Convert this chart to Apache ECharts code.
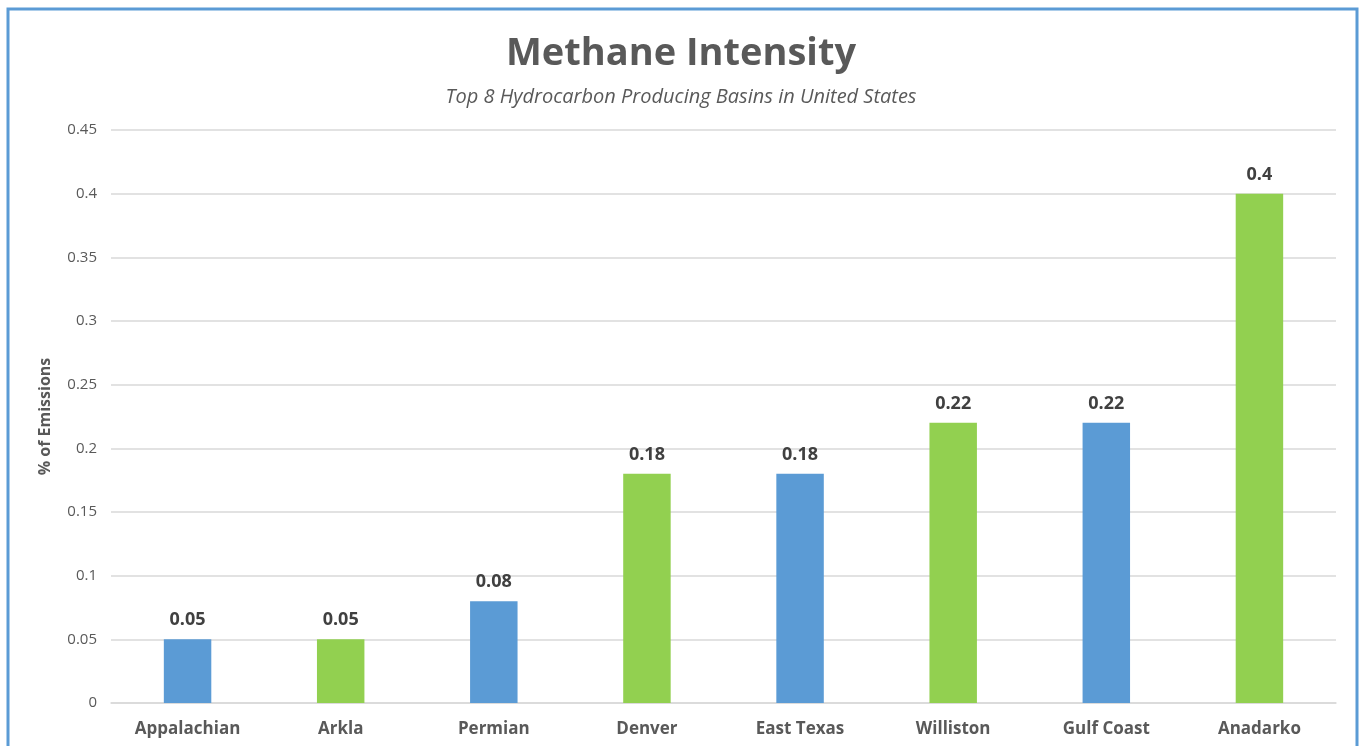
<!DOCTYPE html>
<html>
<head>
<meta charset="utf-8">
<script src="https://cdn.jsdelivr.net/npm/echarts@6/dist/echarts.min.js"></script>
<style>
  html, body { margin: 0; padding: 0; background: #fff; }
  #chart { width: 1362px; height: 746px; }
</style>
</head>
<body>
<div id="chart"></div>
<script>
// basins and methane intensity (% of emissions)
var basins = ['Appalachian', 'Arkla', 'Permian', 'Denver', 'East Texas', 'Williston', 'Gulf Coast', 'Anadarko'];
var intensity = [0.05, 0.05, 0.08, 0.18, 0.18, 0.22, 0.22, 0.4];
var barColors = ['#5B9BD5', '#92D050', '#5B9BD5', '#92D050', '#5B9BD5', '#92D050', '#5B9BD5', '#92D050'];

var chart = echarts.init(document.getElementById('chart'));

var option = {
    animation: false,
    title: {
        text: 'Methane Intensity',
        subtext: 'Top 8 Hydrocarbon Producing Basins in United States',
        left: 'center',
        top: 30,
        itemGap: 14,
        textStyle: {
            fontFamily: 'Open Sans',
            fontWeight: 'bold',
            fontSize: 38,
            color: '#595959'
        },
        subtextStyle: {
            fontFamily: 'Open Sans',
            fontStyle: 'italic',
            fontSize: 20,
            color: '#595959'
        }
    },
    graphic: [{
        type: 'rect',
        silent: true,
        z: -10,
        shape: { x: 8, y: 9, width: 1349, height: 760 },
        style: { fill: 'none', stroke: '#5B9BD5', lineWidth: 3 }
    }],
    grid: {
        left: 111,
        right: 26,
        top: 130,
        bottom: 43
    },
    xAxis: {
        type: 'category',
        data: basins,
        axisTick: { show: false },
        axisLine: { lineStyle: { color: '#D9D9D9', width: 1.5 } },
        axisLabel: {
            margin: 18,
            fontFamily: 'Open Sans',
            fontWeight: 'bold',
            fontSize: 17,
            color: '#595959'
        }
    },
    yAxis: {
        type: 'value',
        min: 0,
        max: 0.45,
        interval: 0.05,
        name: '% of Emissions',
        nameLocation: 'middle',
        nameGap: 58,
        nameTextStyle: {
            fontFamily: 'Open Sans',
            fontWeight: 'bold',
            fontSize: 16,
            color: '#595959'
        },
        axisLine: { show: false },
        axisTick: { show: false },
        splitLine: { lineStyle: { color: '#D9D9D9', width: 1.5 } },
        axisLabel: {
            margin: 14,
            fontFamily: 'Open Sans',
            fontSize: 15,
            color: '#595959',
            formatter: function (v) { return String(+v.toFixed(2)); }
        }
    },
    series: [{
        type: 'bar',
        barWidth: '31%',
        data: intensity.map(function (v, i) {
            return { value: v, itemStyle: { color: barColors[i] } };
        }),
        label: {
            show: true,
            position: 'top',
            distance: 10,
            fontFamily: 'Open Sans',
            fontWeight: 'bold',
            fontSize: 18,
            color: '#404040'
        }
    }]
};

chart.setOption(option);
</script>
</body>
</html>
